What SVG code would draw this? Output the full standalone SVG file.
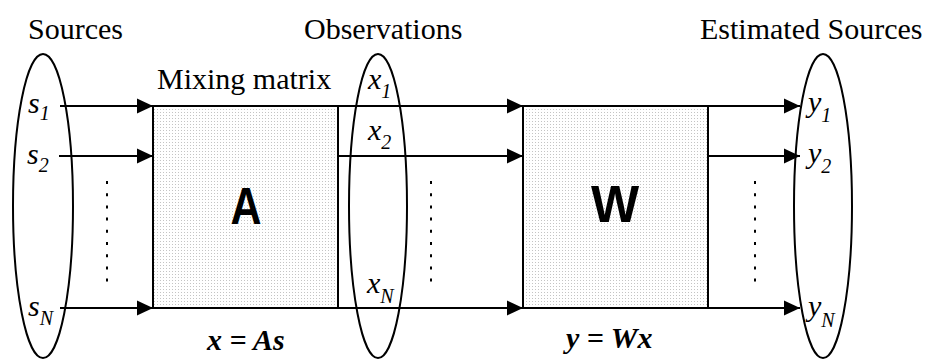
<svg xmlns="http://www.w3.org/2000/svg" width="935" height="359" viewBox="0 0 935 359">
<style>
.lbl{font-family:"Liberation Serif","Times New Roman",serif;font-size:30px;fill:#000}
.v{font-family:"Liberation Serif","Times New Roman",serif;font-style:italic;font-size:30px;fill:#000}
.sub{font-size:20px}
.eq{font-family:"Liberation Serif","Times New Roman",serif;font-style:italic;font-weight:bold;font-size:30px;fill:#000}
.big{font-family:"Liberation Sans",Arial,sans-serif;font-weight:bold;font-size:51px;fill:#000;text-anchor:middle}
.box{fill:url(#dots);stroke:#000;stroke-width:2}
.ell{fill:none;stroke:#000;stroke-width:2}
.arr{stroke:#000;stroke-width:2;fill:none;marker-end:url(#ah)}
.dot{stroke:#000;stroke-width:2;stroke-dasharray:3 9.2;fill:none}
</style>
<defs>
<pattern id="dots" width="3" height="3" patternUnits="userSpaceOnUse">
<rect width="3" height="3" fill="#fff"/>
<rect x="1" y="1" width="1" height="1" fill="#c4c4c4"/>
</pattern>
<marker id="ah" viewBox="0 0 16 16" refX="16" refY="8" markerWidth="16" markerHeight="16" markerUnits="userSpaceOnUse" orient="auto">
<path d="M0,0.5 L16,8 L0,15.5 Z" fill="#000"/>
</marker>
</defs>
<rect width="935" height="359" fill="#fff"/>

<g id="connectors">
<line class="arr" x1="60" y1="106" x2="153" y2="106"/>
<line class="arr" x1="59" y1="156" x2="153" y2="156"/>
<line class="arr" x1="60" y1="308" x2="153" y2="308"/>
<line class="arr" x1="338" y1="106" x2="523" y2="106"/>
<line class="arr" x1="338" y1="156" x2="523" y2="156"/>
<line class="arr" x1="338" y1="308" x2="523" y2="308"/>
<line class="arr" x1="708" y1="106" x2="800" y2="106"/>
<line class="arr" x1="708" y1="156" x2="800" y2="156"/>
<line class="arr" x1="708" y1="308" x2="800" y2="308"/>
<line class="dot" x1="107" y1="181" x2="107" y2="284"/>
<line class="dot" x1="431" y1="181" x2="431" y2="284"/>
<line class="dot" x1="755" y1="181" x2="755" y2="284"/>
</g>

<g id="sources">
<ellipse class="ell" cx="43" cy="206" rx="30" ry="152"/>
<text class="lbl" x="28" y="39">Sources</text>
<text class="v" x="28" y="113">s<tspan class="sub" dy="7">1</tspan></text>
<text class="v" x="27" y="164">s<tspan class="sub" dy="8">2</tspan></text>
<text class="v" x="28" y="316">s<tspan class="sub" dy="9">N</tspan></text>
</g>

<g id="mixing">
<rect class="box" x="153" y="106" width="185" height="202"/>
<text class="lbl" x="157" y="89">Mixing matrix</text>
<text class="big" x="246" y="224" textLength="31" lengthAdjust="spacingAndGlyphs">A</text>
<text class="eq" x="207" y="350" xml:space="preserve">x = As</text>
</g>

<g id="observations">
<ellipse class="ell" cx="378" cy="206" rx="29" ry="152"/>
<text class="lbl" x="304" y="39">Observations</text>
<text class="v" x="368" y="89">x<tspan class="sub" dy="9">1</tspan></text>
<text class="v" x="368" y="140">x<tspan class="sub" dy="9">2</tspan></text>
<text class="v" x="367" y="293">x<tspan class="sub" dy="10">N</tspan></text>
</g>

<g id="unmixing">
<rect class="box" x="523" y="106" width="185" height="202"/>
<text class="big" x="615" y="222">W</text>
<text class="eq" x="566" y="348" xml:space="preserve">y = Wx</text>
</g>

<g id="estimated">
<ellipse class="ell" cx="823" cy="206" rx="29" ry="152"/>
<text class="lbl" x="700" y="39">Estimated Sources</text>
<text class="v" x="808" y="112">y<tspan class="sub" dy="10">1</tspan></text>
<text class="v" x="808" y="163">y<tspan class="sub" dy="10">2</tspan></text>
<text class="v" x="808" y="316">y<tspan class="sub" dy="11">N</tspan></text>
</g>
</svg>
